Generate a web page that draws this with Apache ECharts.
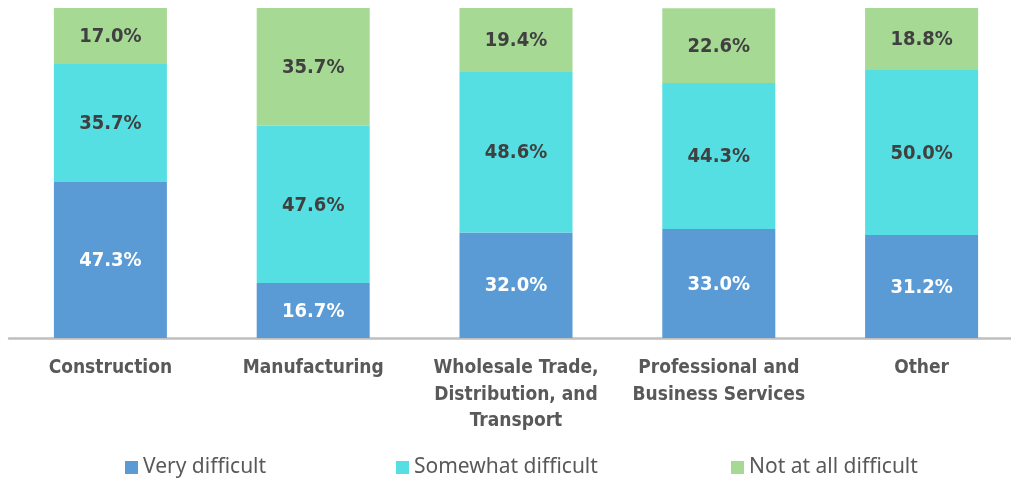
<!DOCTYPE html>
<html>
<head>
<meta charset="utf-8">
<script src="https://cdn.jsdelivr.net/npm/echarts@6/dist/echarts.min.js"></script>
<style>
  html, body { margin: 0; padding: 0; background: #ffffff; overflow: hidden; }
  /* plot runs past the right edge of the window; the overflow is cut off */
  #chart { width: 1024px; height: 481px; }
</style>
</head>
<body>
<div id="chart"></div>
<script>
// Industry categories (x axis)
const categories = [
  'Construction',
  'Manufacturing',
  'Wholesale Trade,\nDistribution, and\nTransport',
  'Professional and\nBusiness Services',
  'Other'
];

// Share of respondents per difficulty level (%)
const veryDifficult = [47.3, 16.7, 32.0, 33.0, 31.2];
const somewhatDifficult = [35.7, 47.6, 48.6, 44.3, 50.0];
const notAtAllDifficult = [17.0, 35.7, 19.4, 22.6, 18.8];

const seriesNames = ['Very difficult', 'Somewhat difficult', 'Not at all difficult'];
const seriesColors = ['#5b9bd5', '#55dfe3', '#a6d993'];
const labelColors = ['#ffffff', '#404040', '#404040'];
const seriesData = [veryDifficult, somewhatDifficult, notAtAllDifficult];

const chart = echarts.init(document.getElementById('chart'), null, { renderer: 'canvas' });

const condensed = '"Liberation Sans Narrow", "DejaVu Sans Condensed", sans-serif';

const legendLefts = [125, 396, 731];

chart.setOption({
  animation: false,
  backgroundColor: '#ffffff',
  grid: { left: 9, top: 8, width: 1014, height: 330, containLabel: false },
  legend: seriesNames.map((name, i) => ({
    data: [name],
    left: legendLefts[i],
    top: 457,
    padding: 0,
    itemWidth: 13,
    itemHeight: 13,
    itemGap: 0,
    icon: 'rect',
    textStyle: { fontFamily: '"Noto Sans", sans-serif', fontSize: 21, color: '#595959' }
  })),
  xAxis: {
    type: 'category',
    data: categories,
    axisLine: { show: true, lineStyle: { color: '#bfbfbf', width: 2.5 } },
    axisTick: { show: false },
    axisLabel: {
      margin: 17,
      interval: 0,
      fontFamily: condensed,
      fontWeight: 'bold',
      fontSize: 19,
      lineHeight: 26.5,
      color: '#595959'
    }
  },
  yAxis: {
    type: 'value',
    min: 0,
    max: 100,
    show: false
  },
  series: seriesData.map((data, i) => ({
    name: seriesNames[i],
    type: 'bar',
    stack: 'total',
    barWidth: 113,
    data: data,
    itemStyle: { color: seriesColors[i] },
    label: {
      show: true,
      position: 'inside',
      offset: [0, 1],
      formatter: (p) => p.value.toFixed(1) + '%',
      fontFamily: condensed,
      fontWeight: 'bold',
      fontSize: 20,
      color: labelColors[i]
    }
  }))
});
</script>
</body>
</html>
